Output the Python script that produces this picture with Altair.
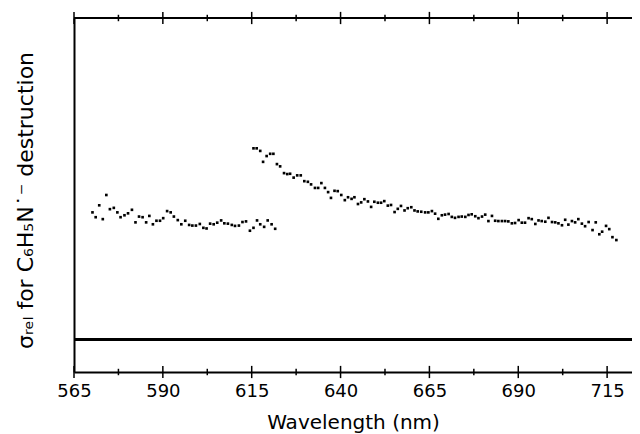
import altair as alt
import pandas as pd

# Series A (shorter-wavelength scan)
wl_a = [570.2, 571.1, 572.1, 573.1, 574.1, 575.1, 576.2, 577.2, 578.1, 579.2,
        580.2, 581.3, 582.3, 583.3, 584.3, 585.3, 586.2, 587.2, 588.2, 589.2,
        590.1, 591.2, 592.2, 593.1, 594.2, 595.2, 596.3, 597.4, 598.3, 599.3,
        600.4, 601.4, 602.3, 603.3, 604.3, 605.3, 606.4, 607.3, 608.3, 609.4,
        610.3, 611.4, 612.4, 613.4, 614.5, 615.5, 616.5, 617.4, 618.5, 619.5,
        620.6, 621.6]
sig_a = [39.6, 38.1, 41.8, 37.5, 45.0, 40.6, 41.0, 39.6, 38.1, 38.7,
         39.3, 40.4, 36.5, 38.3, 38.1, 36.5, 38.5, 35.9, 37.0, 37.0,
         37.8, 40.0, 39.6, 38.3, 37.2, 35.9, 37.0, 35.7, 35.5, 35.5,
         36.0, 34.8, 34.6, 36.1, 35.9, 36.4, 37.1, 36.2, 36.1, 35.7,
         35.4, 35.5, 36.6, 36.8, 33.9, 34.8, 37.1, 35.9, 35.1, 37.1,
         35.9, 34.5]

# Series B (longer-wavelength scan)
wl_b = [615.5, 616.4, 617.4, 618.2, 619.2, 620.2, 621.1, 622.1, 623.0, 624.1,
        625.0, 625.8, 626.8, 627.8, 628.8, 629.8, 630.8, 631.7, 632.8, 633.7,
        634.6, 635.6, 636.5, 637.3, 638.3, 639.2, 640.2, 641.2, 642.1, 643.1,
        643.9, 644.9, 645.8, 646.7, 647.7, 648.6, 649.5, 650.5, 651.4, 652.3,
        653.3, 654.2, 655.2, 656.1, 657.0, 658.0, 658.9, 659.9, 660.8, 661.7,
        662.7, 663.8, 664.7, 665.7, 666.6, 667.5, 668.5, 669.4, 670.4, 671.3,
        672.2, 673.2, 674.1, 675.1, 676.0, 676.9, 677.9, 678.8, 679.8, 680.7,
        681.6, 682.6, 683.5, 684.4, 685.4, 686.3, 687.2, 688.2, 689.1, 690.1,
        691.0, 691.9, 692.9, 693.8, 694.8, 695.7, 696.6, 697.6, 698.5, 699.5,
        700.4, 701.3, 702.3, 703.2, 704.1, 705.1, 706.0, 706.9, 707.9, 708.8,
        709.8, 710.9, 711.8, 712.8, 713.6, 714.7, 715.6, 716.5, 717.6]
sig_b = [59.5, 59.5, 58.7, 55.3, 57.1, 57.8, 57.8, 54.6, 53.9, 51.8,
         51.5, 51.6, 50.4, 51.1, 51.1, 49.3, 49.1, 48.3, 47.2, 47.2,
         48.7, 47.2, 45.9, 44.1, 46.3, 46.2, 45.0, 43.4, 44.3, 43.8,
         44.3, 42.2, 42.7, 43.7, 43.0, 41.3, 42.9, 42.6, 42.6, 43.1,
         41.7, 41.9, 39.7, 40.7, 41.6, 40.2, 40.9, 41.2, 40.2, 39.9,
         39.8, 39.6, 39.6, 40.0, 39.2, 37.6, 38.7, 38.9, 39.1, 38.2,
         37.9, 38.2, 38.3, 38.2, 38.8, 39.0, 38.4, 37.8, 38.3, 38.9,
         36.9, 38.5, 37.0, 36.9, 36.9, 36.9, 36.8, 36.2, 36.3, 37.2,
         36.4, 36.4, 37.8, 37.5, 36.0, 37.1, 36.9, 36.7, 37.9, 36.6,
         36.5, 36.2, 35.6, 37.3, 35.8, 36.9, 36.5, 37.5, 36.1, 35.3,
         36.6, 34.1, 36.5, 32.8, 33.6, 35.4, 34.4, 31.9, 31.0]

major_ticks = [565, 590, 615, 640, 665, 690, 715]
minor_ticks = [577.5, 602.5, 627.5, 652.5, 677.5, 702.5]

df = pd.DataFrame({
    "wl": wl_a + wl_b,
    "sig": sig_a + sig_b,
    "run": ["a"] * len(wl_a) + ["b"] * len(wl_b),
})
major_df = pd.DataFrame({"t": major_ticks})
minor_df = pd.DataFrame({"t": minor_ticks})

FONT = "DejaVu Sans"
xs = alt.Scale(domain=[565, 722], nice=False, zero=False)
ys = alt.Scale(domain=[-10, 100], nice=False, zero=False)

pts = alt.Chart(df).mark_square(size=7, color="black", opacity=1).encode(
    x=alt.X("wl:Q", scale=xs,
            axis=alt.Axis(values=major_ticks, title="Wavelength (nm)", ticks=False,
                          grid=False, domainWidth=2, domainColor="black",
                          labelFontSize=18, labelFont=FONT, labelColor="black",
                          labelPadding=10, labelFlush=False,
                          titleFontSize=20, titleFont=FONT, titleFontWeight="normal",
                          titleColor="black", titlePadding=12)),
    y=alt.Y("sig:Q", scale=ys,
            axis=alt.Axis(title="σᵣₑₗ for C₆H₅N˙⁻ destruction", labels=False,
                          ticks=False, grid=False, domainWidth=2, domainColor="black",
                          titleFontSize=22, titleFont=FONT, titleFontWeight="normal",
                          titleColor="black", titlePadding=37, titleY=182)),
)

top_line = alt.Chart(df).mark_rule(color="black", strokeWidth=2).encode(y=alt.datum(100))
zero_line = alt.Chart(df).mark_rule(color="black", strokeWidth=2).encode(y=alt.datum(0))

def ticks(data, yval, half):
    return alt.Chart(data).mark_rule(color="black", strokeWidth=1.5).encode(
        x=alt.X("t:Q", scale=xs),
        y=alt.datum(yval + half),
        y2=alt.datum(yval - half))

chart = alt.layer(
    top_line, zero_line,
    ticks(major_df, 100, 1.9), ticks(minor_df, 100, 1.0),
    ticks(major_df, -10, 1.9), ticks(minor_df, -10, 1.0),
    pts,
).properties(
    width=558, height=354,
    autosize=alt.AutoSizeParams(type="none"),
    padding={"left": 66, "top": 10, "right": 0, "bottom": 62},
    background="white",
).configure_view(stroke=None)

chart.save("out.html", embed_options={"renderer": "svg", "actions": False})
